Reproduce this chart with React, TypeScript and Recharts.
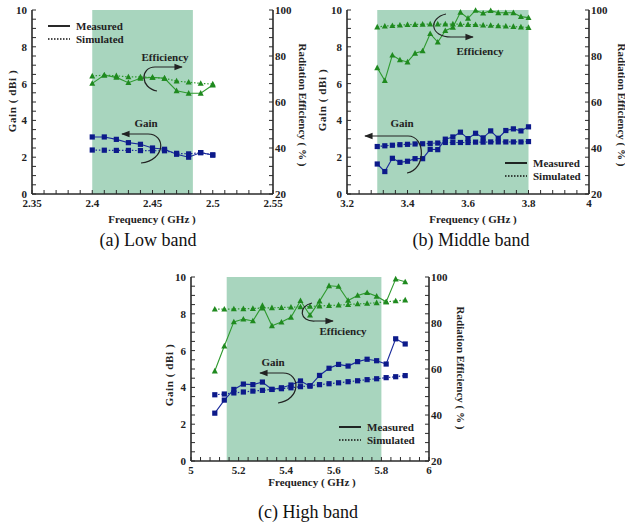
import { LineChart, Line, XAxis, YAxis, ReferenceArea } from 'recharts';

// ---- (a) low band ----
const lowFreq = [2.4, 2.41, 2.42, 2.43, 2.44, 2.45, 2.46, 2.47, 2.48, 2.49, 2.5];
const lowGainMeas = [3.1, 3.1, 2.97, 2.79, 2.7, 2.5, 2.43, 2.16, 2.0, 2.25, 2.12];
const lowGainSim = [2.39, 2.38, 2.37, 2.37, 2.36, 2.35, 2.35, 2.21, 2.18, 2.25, 2.12];
const lowEffMeas = [68.1, 71.7, 70.7, 68.4, 70.3, 70.7, 70.3, 64.9, 63.8, 63.8, 67.4];
const lowEffSim = [71.3, 71.7, 71.4, 70.9, 70.9, 70.7, 70.3, 69.1, 68.6, 68.1, 67.8];

// ---- (b) middle band ----
const midFreq = [3.3, 3.325, 3.35, 3.375, 3.4, 3.425, 3.45, 3.475, 3.5, 3.525, 3.55, 3.575, 3.6, 3.625, 3.65, 3.675, 3.7, 3.725, 3.75, 3.775, 3.8];
const midGainMeas = [1.63, 1.22, 1.94, 1.72, 1.78, 1.92, 1.92, 2.43, 2.41, 2.98, 3.1, 3.36, 3.01, 3.3, 3.05, 3.43, 3.03, 3.45, 3.54, 3.43, 3.65];
const midGainSim = [2.58, 2.62, 2.65, 2.68, 2.7, 2.72, 2.73, 2.75, 2.77, 2.8, 2.8, 2.8, 2.8, 2.82, 2.82, 2.83, 2.83, 2.83, 2.83, 2.83, 2.85];
const midEffMeas = [74.9, 69.3, 80.4, 78.3, 77.4, 81.2, 82.2, 89.7, 86.0, 91.0, 92.5, 99.0, 96.4, 99.8, 98.6, 99.7, 98.8, 98.8, 98.8, 97.1, 96.7];
const midEffSim = [92.6, 93.0, 93.2, 93.4, 93.6, 93.7, 93.8, 93.9, 93.9, 93.9, 93.9, 93.8, 93.7, 93.6, 93.4, 93.3, 93.1, 93.0, 92.8, 92.6, 92.4];

// ---- (c) high band ----
const highFreq = [5.1, 5.14, 5.18, 5.22, 5.26, 5.3, 5.34, 5.38, 5.42, 5.46, 5.5, 5.54, 5.58, 5.62, 5.66, 5.7, 5.74, 5.78, 5.82, 5.86, 5.9];
const highGainMeas = [2.6, 3.31, 3.89, 4.18, 4.15, 4.29, 3.89, 3.98, 4.13, 4.35, 4.07, 4.65, 5.04, 5.25, 5.16, 5.4, 5.53, 5.45, 5.27, 6.64, 6.36];
const highGainSim = [3.6, 3.64, 3.7, 3.75, 3.8, 3.84, 3.89, 3.93, 3.98, 4.04, 4.09, 4.15, 4.2, 4.25, 4.31, 4.36, 4.42, 4.47, 4.53, 4.58, 4.64];
const highEffMeas = [59.1, 70.0, 80.5, 81.7, 80.9, 87.6, 78.8, 80.4, 82.5, 89.7, 83.4, 89.5, 96.2, 95.9, 89.8, 92.0, 93.2, 91.6, 89.2, 99.1, 97.9];
const highEffSim = [86.0, 86.0, 86.1, 86.2, 86.3, 86.5, 86.6, 86.7, 86.9, 87.0, 87.2, 87.4, 87.6, 87.8, 88.0, 88.3, 88.5, 88.8, 89.2, 89.6, 90.0];

const gainTicks = [0, 2, 4, 6, 8, 10];
const effTicks = [20, 40, 60, 80, 100];

const BLUE = '#1a2a9c';
const BLUE_MK = '#0c1a8a';
const GREEN = '#2f9a2f';
const GREEN_MK = '#1f8a1f';
const SHADE = '#a8d5be';
const AXIS = '#2a2a2a';
const FONT = '"Liberation Serif", "Times New Roman", serif';

const steps = (from: number, to: number, step: number) => {
  const out: number[] = [];
  const n = Math.round((to - from) / step);
  for (let i = 0; i <= n; i++) out.push(Math.round((from + i * step) * 10000) / 10000);
  return out;
};

const isMajor = (v: number, list: number[]) => list.some((m) => Math.abs(m - v) < 1e-6);

const square = (color: string) => (p: any) => {
  if (p.cx == null || p.cy == null) return <g key={p.index} />;
  return <rect key={p.index} x={p.cx - 2.6} y={p.cy - 2.6} width={5.2} height={5.2} fill={color} />;
};

const triangle = (color: string) => (p: any) => {
  if (p.cx == null || p.cy == null) return <g key={p.index} />;
  const { cx, cy } = p;
  return <polygon key={p.index} points={`${cx},${cy - 3.2} ${cx - 3},${cy + 2.4} ${cx + 3},${cy + 2.4}`} fill={color} />;
};

interface PanelProps {
  left: number;
  top: number;
  width: number;
  height: number;
  margin: { top: number; right: number; bottom: number; left: number };
  freq: number[];
  gm: number[];
  gs: number[];
  em: number[];
  es: number[];
  xDomain: [number, number];
  xMajor: number[];
  xMinorStep: number;
  band: [number, number];
}

const tickStyle = { fontFamily: FONT, fontWeight: 'bold' as const, fontSize: 11, fill: '#222' };

const Panel = ({ left, top, width, height, margin, freq, gm, gs, em, es, xDomain, xMajor, xMinorStep, band }: PanelProps) => {
  const data = freq.map((f, i) => ({ f, gm: gm[i], gs: gs[i], em: em[i], es: es[i] }));
  const xTicks = steps(xDomain[0], xDomain[1], xMinorStep);
  const gTicks = steps(0, 10, 0.5);
  const eTicks = steps(20, 100, 4);
  return (
    <div style={{ position: 'absolute', left, top }}>
      <LineChart width={width} height={height} data={data} margin={margin}>
        <XAxis
          dataKey="f"
          type="number"
          domain={xDomain}
          ticks={xTicks}
          interval={0}
          tickFormatter={(v: number) => (isMajor(v, xMajor) ? String(Number(v.toFixed(2))) : '')}
          height={30}
          tickSize={-4}
          tickMargin={9}
          tick={tickStyle}
          axisLine={{ stroke: AXIS, strokeWidth: 1.6 }}
          tickLine={{ stroke: AXIS, strokeWidth: 1 }}
        />
        <XAxis xAxisId="top" dataKey="f" type="number" domain={xDomain} orientation="top" height={0} tick={false} tickLine={false} axisLine={{ stroke: AXIS, strokeWidth: 1.6 }} />
        <YAxis
          yAxisId="g"
          type="number"
          domain={[0, 10]}
          ticks={gTicks}
          interval={0}
          tickFormatter={(v: number) => (isMajor(v, gainTicks) ? String(v) : '')}
          width={30}
          tickSize={-4}
          tickMargin={9}
          tick={tickStyle}
          axisLine={{ stroke: AXIS, strokeWidth: 1.6 }}
          tickLine={{ stroke: AXIS, strokeWidth: 1 }}
        />
        <YAxis
          yAxisId="e"
          orientation="right"
          type="number"
          domain={[20, 100]}
          ticks={eTicks}
          interval={0}
          tickFormatter={(v: number) => (isMajor(v, effTicks) ? String(v) : '')}
          width={30}
          tickSize={-4}
          tickMargin={6}
          tick={{ ...tickStyle, textAnchor: 'start' }}
          axisLine={{ stroke: AXIS, strokeWidth: 1.6 }}
          tickLine={{ stroke: AXIS, strokeWidth: 1 }}
        />
        <ReferenceArea x1={band[0]} x2={band[1]} yAxisId="g" y1={0} y2={10} fill={SHADE} fillOpacity={1} stroke="none" />
        <Line yAxisId="g" dataKey="gs" stroke={BLUE} strokeWidth={1.2} strokeDasharray="1.5 1.8" dot={square(BLUE_MK)} activeDot={false} isAnimationActive={false} />
        <Line yAxisId="g" dataKey="gm" stroke={BLUE} strokeWidth={1.1} dot={square(BLUE_MK)} activeDot={false} isAnimationActive={false} />
        <Line yAxisId="e" dataKey="es" stroke={GREEN} strokeWidth={1.2} strokeDasharray="1.5 1.8" dot={triangle(GREEN_MK)} activeDot={false} isAnimationActive={false} />
        <Line yAxisId="e" dataKey="em" stroke={GREEN} strokeWidth={1.1} dot={triangle(GREEN_MK)} activeDot={false} isAnimationActive={false} />
      </LineChart>
    </div>
  );
};

const Legend = ({ x, y }: { x: number; y: number }) => (
  <g fontFamily={FONT} fontWeight="bold" fontSize={11} fill="#222">
    <line x1={x} y1={y} x2={x + 22} y2={y} stroke="#111" strokeWidth={1.8} />
    <text x={x + 28} y={y + 4}>Measured</text>
    <line x1={x} y1={y + 13} x2={x + 22} y2={y + 13} stroke="#111" strokeWidth={1.4} strokeDasharray="1.5 1.5" />
    <text x={x + 28} y={y + 17}>Simulated</text>
  </g>
);

const label = { fontFamily: FONT, fontWeight: 'bold' as const, fontSize: 11, fill: '#222' };

const Titles = ({ gx, gy, ex, ey, fx, fy }: { gx: number; gy: number; ex: number; ey: number; fx: number; fy: number }) => (
  <g>
    <text {...label} x={gx} y={gy} textAnchor="middle" dominantBaseline="middle" letterSpacing={0.6} transform={`rotate(-90 ${gx} ${gy})`}>Gain ( dBi )</text>
    <text {...label} x={ex} y={ey} textAnchor="middle" dominantBaseline="middle" transform={`rotate(90 ${ex} ${ey})`}>Radiation Efficiency ( % )</text>
    <text {...label} x={fx} y={fy} textAnchor="middle" dominantBaseline="middle">Frequency ( GHz )</text>
  </g>
);

const arrowStroke = { fill: 'none', stroke: '#222', strokeWidth: 1.2 };

export default function App() {
  return (
    <div style={{ position: 'absolute', left: 0, top: 0, width: 625, height: 526, background: '#fff', overflow: 'hidden' }}>
      <Panel left={0} top={0} width={310} height={230} margin={{ top: 10, right: 7, bottom: 6, left: 2 }}
        freq={lowFreq} gm={lowGainMeas} gs={lowGainSim} em={lowEffMeas} es={lowEffSim}
        xDomain={[2.35, 2.55]} xMajor={[2.35, 2.4, 2.45, 2.5, 2.55]} xMinorStep={0.01} band={[2.4, 2.4835]} />
      <Panel left={310} top={0} width={315} height={230} margin={{ top: 10, right: 6, bottom: 6, left: 7 }}
        freq={midFreq} gm={midGainMeas} gs={midGainSim} em={midEffMeas} es={midEffSim}
        xDomain={[3.2, 4]} xMajor={[3.2, 3.4, 3.6, 3.8, 4]} xMinorStep={0.04} band={[3.3, 3.8]} />
      <Panel left={150} top={260} width={320} height={235} margin={{ top: 17, right: 11, bottom: 4, left: 11 }}
        freq={highFreq} gm={highGainMeas} gs={highGainSim} em={highEffMeas} es={highEffSim}
        xDomain={[5, 6]} xMajor={[5, 5.2, 5.4, 5.6, 5.8, 6]} xMinorStep={0.04} band={[5.15, 5.8]} />
      <svg width={625} height={526} style={{ position: 'absolute', left: 0, top: 0, pointerEvents: 'none' }}>
        <defs>
          <marker id="ah" viewBox="0 0 10 10" refX="9" refY="5" markerWidth="7" markerHeight="7" orient="auto">
            <path d="M0,1 L10,5 L0,9 z" fill="#222" />
          </marker>
        </defs>
        {/* (a) */}
        <Legend x={48} y={26} />
        <Titles gx={13} gy={101} ex={302} ey={105} fx={152} fy={220} />
        <text {...label} x={165} y={61} textAnchor="middle">Efficiency</text>
        <path d="M157 91 C140 88, 140 67, 155 67 L182 67" {...arrowStroke} markerEnd="url(#ah)" />
        <text {...label} x={146} y={127} textAnchor="middle">Gain</text>
        <path d="M141 163 C166 160, 166 134, 148 134 L122 134" {...arrowStroke} markerEnd="url(#ah)" />
        {/* (b) */}
        <Legend x={505} y={163} />
        <Titles gx={323} gy={100} ex={621} ey={105} fx={473} fy={220} />
        <text {...label} x={480} y={55} textAnchor="middle">Efficiency</text>
        <path d="M446 14 C428 18, 430 37, 451 37 L473 37" {...arrowStroke} markerEnd="url(#ah)" />
        <text {...label} x={402} y={127} textAnchor="middle">Gain</text>
        <path d="M407 173 C426 170, 426 136, 408 136 L365 136" {...arrowStroke} markerEnd="url(#ah)" />
        {/* (c) */}
        <Legend x={339} y={427} />
        <Titles gx={170} gy={375} ex={460} ey={368} fx={312} fy={483} />
        <text {...label} x={343} y={335} textAnchor="middle">Efficiency</text>
        <path d="M312 303 C298 306, 299 322, 315 321 L333 321" {...arrowStroke} markerEnd="url(#ah)" />
        <text {...label} x={273} y={366} textAnchor="middle">Gain</text>
        <path d="M278 403 C301 400, 301 373, 283 373 L260 373" {...arrowStroke} markerEnd="url(#ah)" />
        {/* captions */}
        <g fontFamily={FONT} fontSize={18} fill="#111">
          <text x={148} y={246} textAnchor="middle">(a) Low band</text>
          <text x={471} y={246} textAnchor="middle">(b) Middle band</text>
          <text x={308} y={518} textAnchor="middle">(c) High band</text>
        </g>
      </svg>
    </div>
  );
}
